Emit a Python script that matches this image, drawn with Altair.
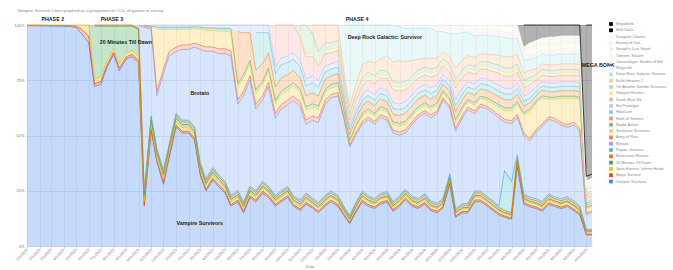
import altair as alt
import pandas as pd

# semi-monthly sample dates (1st and 15th of each month)
dates = pd.date_range("2022-01-01", "2025-10-15", freq="SMS").strftime("%Y-%m-%d").tolist()

names = ["Vampire Survivors", "Magic Survival", "Spirit Hunters: Infinite Horde", "20 Minutes Till Dawn",
         "Boneraiser Minions", "Rogue: Genesia", "Brotato", "Army of Ruin", "Soulstone Survivors",
         "Nordic Ashes", "Halls of Torment", "HoloCure", "Bio Prototype", "Death Must Die",
         "Vampire Hunters", "Yet Another Zombie Survivors", "Bullet Heaven 2", "Deep Rock Galactic: Survivor",
         "Magicraft", "Jotunnslayer: Hordes of Hel", "Temtem: Swarm", "Seraph's Last Stand",
         "Bounty of One", "Dungeon Clawler", "Hell Clock", "Megabonk"]
colors = ["#4285F4", "#EA4335", "#FBBC04", "#34A853", "#FF6D01", "#46BDC6", "#7BAAF7", "#F07B72",
          "#FCD04F", "#71C287", "#FF994D", "#7ED1D7", "#B3CEFB", "#F7B4AE", "#FDE49B", "#AEDCBA",
          "#FFC599", "#B5E8EB", "#ECF3FE", "#FDECEB", "#FFF8E6", "#EBF6EE", "#FFF0E6", "#EDF9FA",
          "#000000", "#000000"]

s1 = [100,100,100,100,100,100,100,99.5,99,96,92,
      72,73,80,86,79,84,85,82,
      18,52,38,28,40,54,51,51,48,32,
      25,30,27,24,18,20,15,22,20,24,22,18,20,22,18,16,19,17,15,18,20,18,
      14,10,15,20,18,17,19,20,16,18,21,18,17,19,16,15,17,28,13,15,15,
      20,20,18,16,14,13,12,36,19,18,17,16,19,18,17,18,16,14,5,5]
s2 = [0.2,0.2,0.3,0.2,0.3,0.3,0.4,0.4,0.6,2,3,
      1.2,1.3,1.1,1.0,1.2,1.0,1.0,1.0,
      0.7,0.8,0.8,0.9,0.8,0.9,0.9,0.8,0.9,0.8,
      0.8,0.9,0.8,0.8,0.7,0.8,0.7,0.8,0.8,0.9,0.8,0.7,0.8,0.8,0.7,0.7,0.8,0.7,0.7,0.8,0.8,0.8,
      0.7,0.6,0.7,0.8,0.8,0.7,0.8,0.8,0.7,0.8,0.8,0.7,0.7,0.8,0.7,0.7,0.7,0.8,0.6,0.7,0.7,
      0.8,0.8,0.7,0.7,0.7,0.6,0.6,0.8,0.7,0.7,0.7,0.7,0.8,0.7,0.7,0.7,0.7,0.6,0.3,0.3]
s3 = [0.1,0.1,0.1,0.2,0.2,0.2,0.2,0.3,0.5,2,5,
      2.2,2.0,1.8,1.6,2.0,1.8,1.7,1.8,
      1.4,1.5,1.4,1.5,1.6,1.6,1.5,1.5,1.6,1.4,
      1.4,1.5,1.4,1.3,1.2,1.3,1.2,1.3,1.3,1.4,1.3,1.2,1.3,1.3,1.2,1.2,1.3,1.2,1.2,1.3,1.3,1.3,
      1.1,1.0,1.2,1.3,1.3,1.2,1.3,1.3,1.2,1.3,1.3,1.2,1.2,1.3,1.2,1.2,1.2,1.3,1.0,1.1,1.2,
      1.3,1.3,1.2,1.2,1.1,1.0,1.0,1.3,1.2,1.2,1.2,1.2,1.3,1.2,1.2,1.2,1.2,1.1,0.5,0.5]
s4 = [0]*11 + [24,23,16,10,17,12,11,12,
      3.0,2.5,2.0,2.0,1.8,1.6,1.5,1.5,1.4,1.4,
      1.3,1.3,1.2,1.2,1.2,1.1,1.1,1.0,1.0,1.0,1.0,0.9,0.9,0.9,0.9,0.9,0.9,0.8,0.8,0.8,0.8,0.8,
      0.7,0.6,0.7,0.8,0.8,0.7,0.7,0.7,0.7,0.7,0.7,0.7,0.7,0.7,0.6,0.6,0.6,0.7,0.6,0.6,0.6,
      0.7,0.7,0.6,0.6,0.6,0.6,0.5,0.7,0.6,0.6,0.6,0.6,0.6,0.6,0.6,0.6,0.6,0.5,0.8,0.8]
s5 = [0]*11 + [0.4,0.5,0.5,0.5,0.5,0.5,0.5,0.5,
      1.2,1.2,1.1,1.2,1.3,1.3,1.2,1.2,1.3,1.2,
      1.2,1.3,1.2,1.2,1.1,1.2,1.1,1.2,1.2,1.3,1.2,1.1,1.2,1.2,1.1,1.1,1.2,1.1,1.1,1.2,1.2,1.2,
      1.0,0.9,1.1,1.2,1.2,1.1,1.2,1.2,1.1,1.2,1.2,1.1,1.1,1.2,1.1,1.1,1.1,1.2,0.9,1.0,1.1,
      1.2,1.2,1.1,1.1,1.0,0.9,0.9,1.2,1.1,1.1,1.1,1.1,1.2,1.1,1.1,1.1,1.1,1.0,0.5,0.5]
s6 = [0]*19 + [0.6,0.7,0.7,0.8,0.8,0.8,0.8,0.8,0.9,0.8,
      0.8,0.9,0.8,0.8,0.8,0.8,0.8,0.8,0.8,0.9,0.8,0.8,0.8,0.8,0.8,0.8,0.8,0.8,0.8,0.8,0.8,0.8,
      0.7,0.6,0.8,0.8,0.8,0.8,0.8,0.8,0.8,0.8,0.8,0.8,0.8,0.8,0.8,0.8,0.8,0.9,0.7,0.8,0.8,
      0.9,0.9,0.8,0.8,0.8,18,14,1.0,0.9,0.9,0.9,0.9,0.9,0.9,0.9,0.9,0.9,0.8,0.4,0.4]
s7 = [0]*18 + [1.5,
      74,39,24,44,40,28,32,32,36,51,
      58,53,55,58,63,39,48,48,37,37,45,35,37,37,43,42,31,35,36,41,42,45,
      40,31,30.5,30.5,34.5,33.5,34.5,32.5,31.5,27.5,25.5,32.5,36.5,36.5,37.5,40.5,44.5,29.5,35,38.7,42.6,
      35,38,39.6,39.6,39.8,22,26,17,26.5,25.5,30.5,34.5,34,34.5,33.5,31.5,34.5,33.8,6.5,7.5]
s8 = [0]*19 + [0.5,1,2,2,2,2,2,2,1.8,2,2,2,2.2,2.2,2.3,
      2,2,2,2,2,2,2,2,2,2,2,2,2,2,2,1.5,1.5,
      1,0.7,1,1.2,1.2,1.3,1.2,1.3,1.4,1.4,1.4,1.3,1.3,1.2,1.3,1.2,1.1,1.2,1.4,1.3,1.2,
      1.2,1.2,1.2,1.3,1.3,1.3,1.3,1.3,1.2,1.2,1.2,1.2,1.2,1.2,1.2,1.2,1.2,1.2,0.8,0.8]
s9 = [0]*21 + [28,18,10,8,7,7,6.5,7,7.5,7.5,8,8,8.5,
      6,6,5.5,5,5,5,4.5,4.5,4.5,4.5,4.5,4.5,4,4,3.5,3,3,
      2,1.5,2,2.5,2.5,2.5,2.5,2.5,2.6,2.6,2.6,2.5,2.5,2.4,2.5,2.4,2.2,2.3,2.6,2.5,2.4,
      2.5,2.5,2.6,3,3.5,4,4.5,4.5,8,12,12,12,8,8.5,11,12,11,13,2,2]
s10 = [0]*19 + [0.5,0.5,1,1,1,1,1,1,0.9,1,1.2,1.2,1.3,1.3,1.5,
       1.4,1.5,1.5,1.6,1.5,1.4,1.5,1.5,1.6,1.5,1.4,1.5,1.5,1.5,1.4,1.5,1.5,
       1,0.8,1,1.2,1.2,1.2,1.2,1.2,1.3,1.3,1.3,1.2,1.2,1.2,1.2,1.2,1,1.1,1.3,1.2,1.1,
       1.2,1.1,1.2,1.2,1.2,1.3,1.3,1.2,1.1,1.1,1,1,1,1,1,1,1,1,0.5,0.5]
s11 = [0]*34 + [23.5,19,12.5,9,8,7,6,6,5.5,5.5,5,5,5,4.5,4.5,4,4,
       3,2.5,3,3.5,3.5,3.5,3.5,3.5,3.6,3.6,3.6,3.5,3.5,3.4,3.5,3.4,3,3.2,3.7,3.5,3.3,
       3.4,3.3,3.4,3.5,3.5,3.6,3.6,3.4,3,3,2.5,2.5,2.5,2.5,2.5,2.5,2.5,2.5,1,1]
s12 = [0]*37 + [17,14,9,6,6,5.5,5,5,4.5,4.5,4,3.5,3,3,
       2.5,2,2.5,2.5,2.5,2.5,2.5,2.5,2.6,2.6,2.6,2.5,2.5,2.4,2.5,2.4,2.2,2.3,2.6,2.5,2.4,
       2.5,2.4,2.5,2.5,2.6,2.6,2.6,2.5,2.2,2.2,2,2,2,2,2,2,2,2,0.8,0.8]
s13 = [0]*20 + [0.5,1,1,1,1,1,1,0.8,1,1.3,1.3,1.5,1.5,1.7,
       3,3.5,3.5,3.5,3.5,3.5,3,3,3,3,3,3,3,3,2.5,2.5,2.5,
       2,1.5,2,2.5,2.5,2.5,2.5,2.5,2.6,2.6,2.6,2.5,2.5,2.4,2.5,2.4,2.2,2.3,2.6,2.5,2.4,
       2.5,2.4,2.5,2.5,2.6,2.6,2.6,2.5,2.2,2.2,2,2,2,2,2,2,2,2,0.8,0.8]
s14 = [0]*40 + [19,15,14,12.5,10.5,10,9,6.5,5.5,5,5,
       3.5,3,3.5,4,4.5,5,4.5,5.5,6,6,5.5,5,4.5,4.5,5,4.5,4,4.5,5.5,5,4.5,
       4.5,4.2,4.5,5,5.5,5.5,5.5,5,4,4,3,3,3,3,3,3,3,3,1.5,1.5]
s15 = [0]*44 + [0.5,1.5,1.5,1.5,1.5,1.5,1.5,
       1,1,1.5,1.5,1.5,1.5,1.5,1.5,1.6,1.6,1.6,1.5,1.5,1.5,1.5,1.5,1.3,1.4,1.6,1.5,1.4,
       1.5,1.4,1.5,1.5,1.6,1.6,1.6,1.5,1.3,1.3,1.2,1.2,1.2,1.2,1.2,1.2,1.2,1.2,0.5,0.5]
s16 = [0]*44 + [5,13,8.5,5,3.5,3,3,
       2,2,2,2,2,2,2,2,2.1,2.1,2.1,2,2,2,2,2,1.8,1.9,2.2,2,1.9,
       2,1.9,2,2,2.1,2.1,2.1,2,1.8,1.8,1.5,1.5,1.5,1.5,1.5,1.5,1.5,1.5,0.7,0.7]
s17 = [0]*46 + [4,12,8,8,7,
       4,3,4,6,5,6,5,7,9,10,9,7,5,4,5,4,3,3.5,5,4.5,4,
       4,3.5,3.5,4,4.5,5,5,4.5,3.5,3.5,2.5,2.5,2.5,2.5,2.5,2.5,2.5,2.5,1,1]
s18 = [0]*51 + [20,37,27.5,18,16.5,17,15.5,14,17.2,15.2,15.2,14.5,14,13.5,13.5,12,9.2,10.5,15.5,12.5,10.9,
       9.7,8.6,8.4,8.5,8.6,8.7,8.1,7.4,5.5,5,5,4.5,4.5,4.5,4.5,4.5,4.5,4.5,2,2]
s19 = [0]*60 + [1,1.5,1.5,1.5,1.5,1.5,1.5,1.2,1.3,1.5,1.5,1.3,
       1.3,1.2,1.2,1.2,1.2,1.2,1.2,1.1,1,1,1,1,1,1,1,1,1,1,0.5,0.5]
s20 = [0]*66 + [1.5,1.8,2.5,2.5,2,1.8,
       1.7,1.5,1.5,1.5,1.5,1.5,1.5,1.4,1.2,1.2,1.2,1.2,1.2,1.2,1.2,1.2,1.2,1.2,0.5,0.5]
s21 = [0]*72 + [2,1.8,2,2.3,2.3,2.5,2.5,2.3,2,2,2,1.8,1.8,1.8,1.8,1.8,1.8,1.8,0.7,0.7]
s22 = [0]*77 + [0.5,1,0.9,1,1.2,1.2,1.2,1.2,1.2,1.2,1.2,1.2,1.2,0.5,0.5]
s23 = [0]*80 + [1,2,2.5,2.2,2,2,2,2,2,2,1,1]
s24 = [0]*84 + [1,1,1,1,1,1,0.5,0.5]
s25 = [0]*80 + [10,8.3,7,6,5.5,5.5,5,5,5,5,2,2]
s26 = [0]*90 + [68,67]

series = [s1, s2, s3, s4, s5, s6, s7, s8, s9, s10, s11, s12, s13, s14, s15, s16, s17, s18,
          s19, s20, s21, s22, s23, s24, s25, s26]
for i, s in enumerate(series):
    assert len(s) == len(dates), (names[i], len(s), len(dates))

rows = []
for i, (nm, vals) in enumerate(zip(names, series)):
    for d, v in zip(dates, vals):
        rows.append({"date": d, "name": nm, "idx": i + 1, "share": v})
df = pd.DataFrame(rows)

# annotations
ann_c = pd.DataFrame({
    "label": ["PHASE 2", "PHASE 3", "PHASE 4", "20 Minutes Till Dawn", "Brotato",
              "Deep Rock Galactic: Survivor", "Vampire Survivors"],
    "date": ["2022-03-05", "2022-07-28", "2024-03-19", "2022-08-31", "2023-02-28",
             "2024-05-26", "2023-02-28"],
    "ty": [1.025, 1.025, 1.025, 0.921, 0.692, 0.946, 0.104],
})
ann_l = pd.DataFrame({"label": ["MEGA BONK"], "date": ["2025-09-20"], "ty": [0.819]})
title_df = pd.DataFrame({"label": ["Vampire Survivor Likes graphed as a proportion of CCU of games in survey"],
                         "date": ["2021-12-08"], "ty": [1.063]})

FONT = "Liberation Sans"
xscale = alt.Scale(domain=[alt.DateTime(year=2022, month=1, date=1, utc=True),
                           alt.DateTime(year=2025, month=10, date=15, utc=True)])
yscale = alt.Scale(domain=[0, 1], nice=False)
xaxis = alt.Axis(format="%-m/%-d/%Y", labelAngle=-45, labelAlign="right", labelBaseline="middle",
                 labelFontSize=3.8, labelColor="#777", labelFont=FONT, labelOverlap=False,
                 tickCount={"interval": "month", "step": 1}, grid=True, gridColor="#e4e4e4",
                 gridWidth=0.6, tickSize=2, tickColor="#ccc", domainColor="#bbb", domainWidth=0.6,
                 labelPadding=1, title="Date", titleFontSize=4, titleColor="#777", titleFont=FONT,
                 titleFontWeight="normal", titlePadding=2)
yaxis = alt.Axis(format="%", values=[0, 0.25, 0.5, 0.75, 1], labelFontSize=4, labelColor="#777",
                 labelFont=FONT, grid=True, gridColor="#d6d6d6", gridWidth=0.6, domain=False,
                 ticks=False, title=None, labelPadding=3)

X = alt.X("date:T", scale=xscale, axis=xaxis)
cscale = alt.Scale(domain=names[::-1], range=colors[::-1])

base = alt.Chart(df).transform_stack(
    stack="share", as_=["y0", "y1"], groupby=["date"],
    sort=[alt.SortField("idx", order="ascending")], offset="normalize")

area = base.mark_area(opacity=0.3, interpolate="linear").encode(
    x=X,
    y=alt.Y("y0:Q", scale=yscale, axis=yaxis),
    y2="y1:Q",
    color=alt.Color("name:N", scale=cscale,
                    legend=alt.Legend(orient="none", legendX=582, legendY=-3, title=None,
                                      labelFontSize=3.8, labelColor="#888", labelFont=FONT,
                                      symbolType="square", symbolSize=14, symbolOpacity=1,
                                      symbolStrokeWidth=0, rowPadding=2.3, labelLimit=90,
                                      labelOffset=3, padding=0)),
)

line = base.transform_filter("datum.share > 0").mark_line(strokeWidth=0.75, interpolate="linear").encode(
    x=X,
    y=alt.Y("y1:Q", scale=yscale, axis=yaxis),
    color=alt.Color("name:N", scale=cscale, legend=None),
    detail="name:N",
)

txt_c = alt.Chart(ann_c).mark_text(font=FONT, fontWeight="bold", fontSize=5.3, color="#1a1a1a",
                                   align="center", baseline="middle").encode(
    x=X, y=alt.Y("ty:Q", scale=yscale, axis=yaxis), text="label:N")
txt_l = alt.Chart(ann_l).mark_text(font=FONT, fontWeight="bold", fontSize=5.3, color="#1a1a1a",
                                   align="left", baseline="middle").encode(
    x=X, y=alt.Y("ty:Q", scale=yscale, axis=yaxis), text="label:N")
ttl = alt.Chart(title_df).mark_text(font=FONT, fontSize=4.4, color="#888",
                                    align="left", baseline="middle").encode(
    x=X, y=alt.Y("ty:Q", scale=yscale, axis=yaxis), text="label:N")

chart = alt.layer(area, line, txt_c, txt_l, ttl).properties(
    width=565, height=221,
    autosize=alt.AutoSizeParams(type="none"),
    padding={"left": 27, "top": 25, "right": 81, "bottom": 24},
).configure_view(strokeWidth=0)

chart.save("out.html", embed_options={"renderer": "svg", "actions": False})
